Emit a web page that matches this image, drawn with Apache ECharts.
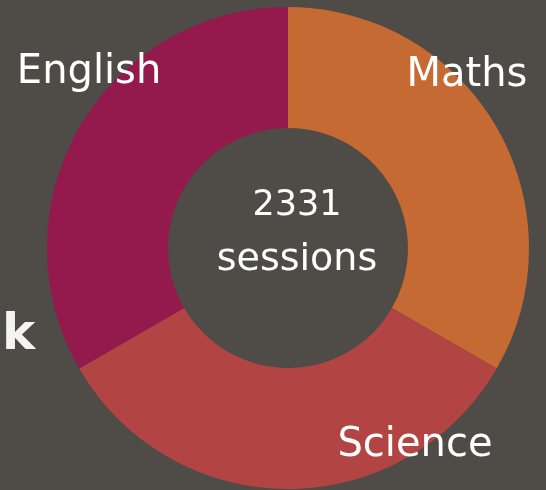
<!DOCTYPE html>
<html>
<head>
<meta charset="utf-8">
<script src="https://cdn.jsdelivr.net/npm/echarts@6/dist/echarts.min.js"></script>
<style>
  html, body { margin: 0; padding: 0; background: #4f4b47; }
  #chart { width: 546px; height: 490px; }
</style>
</head>
<body>
<div id="chart"></div>
<script>
// subjects and session counts
const subjects = ['Maths', 'Science', 'English']
const sessions = [777, 777, 777]
const colors = ['#c46a32', '#b34444', '#941a4d']

const total = sessions.reduce((a, b) => a + b, 0)

// where each name sits, relative to the slice centre
const labelOffsets = [[20, -81], [127, 14], [-40, -84]]

const chart = echarts.init(document.getElementById('chart'))
const font = 'DejaVu Sans'

chart.setOption({
  backgroundColor: '#4f4b47',
  graphic: [
    {
      type: 'text',
      left: 2,
      top: 311,
      style: {
        text: 'k',
        fill: '#f4f4f4',
        font: 'bold 50px "DejaVu Sans"'
      }
    },
    {
      type: 'text',
      x: 297,
      y: 233,
      style: {
        text: '{n|' + total + '}\n{s|sessions}',
        fill: '#ffffff',
        align: 'center',
        verticalAlign: 'middle',
        rich: {
          n: { fontFamily: font, fontSize: 35, lineHeight: 55, fill: '#ffffff' },
          s: { fontFamily: font, fontSize: 38, lineHeight: 55, fill: '#ffffff' }
        }
      }
    }
  ],
  series: [
    {
      type: 'pie',
      center: [288, 248],
      radius: [120, 241],
      startAngle: 90,
      clockwise: true,
      silent: true,
      labelLine: { show: false },
      data: subjects.map((name, i) => ({
        name: name,
        value: sessions[i],
        itemStyle: { color: colors[i] },
        label: {
          show: true,
          position: 'inside',
          formatter: '{b}',
          offset: labelOffsets[i],
          color: '#ffffff',
          fontFamily: font,
          fontSize: 40
        }
      }))
    }
  ]
})
</script>
</body>
</html>
